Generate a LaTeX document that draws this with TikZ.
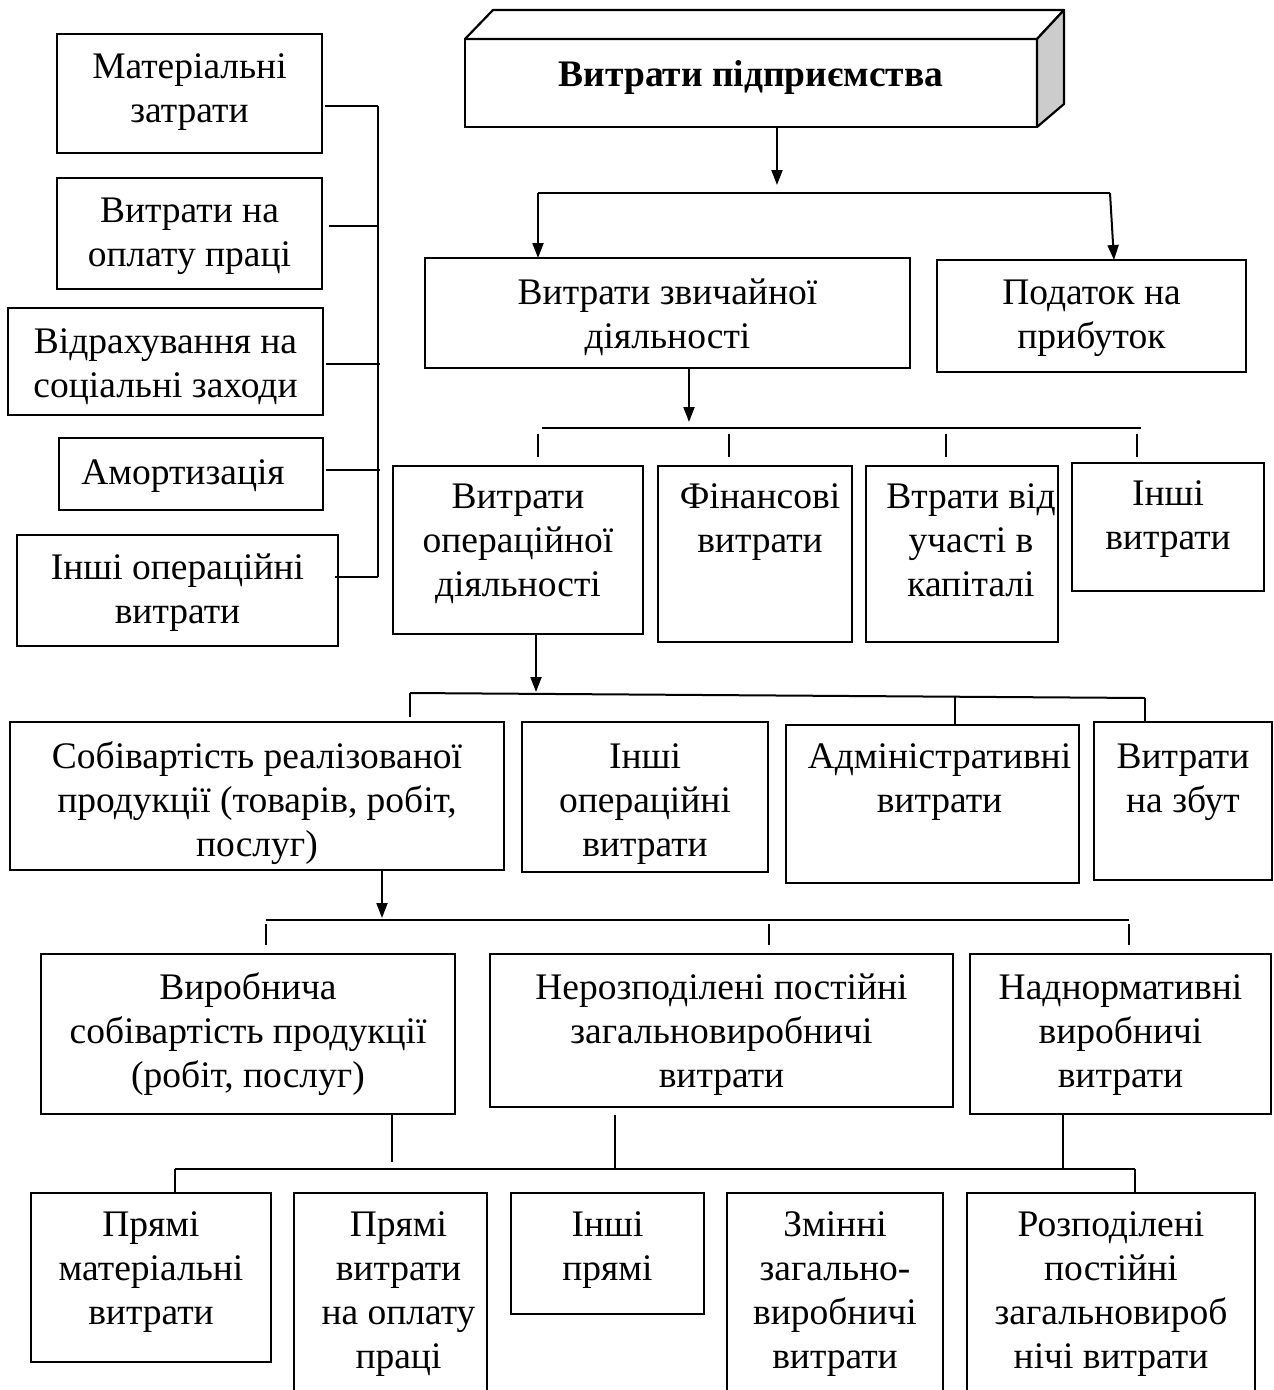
\documentclass[tikz,border=0pt]{standalone}
\usepackage{fontspec}
\setmainfont{Liberation Serif}
\usetikzlibrary{arrows.meta}
\tikzset{
  boxst/.style={draw, line width=2.2pt, rectangle, inner sep=0pt, outer sep=0pt},
  lbl/.style={align=center, inner sep=0pt, outer sep=0pt, font=\fontsize{37.5}{44}\selectfont},
  conn/.style={line width=2pt},
  arr/.style={line width=2pt, -{Triangle[length=15pt,width=11pt]}}
}
% name, x1, y1, x2, y2, xshift, top offset, text
\newcommand\bx[8]{%
  \node[boxst, minimum width={((#4)-(#2))*1pt}, minimum height={((#5)-(#3))*1pt}, anchor=north west] (#1) at (#2,#3) {};
  \node[lbl, anchor=north, xshift=#6pt] (#1-t) at ([yshift=-#7pt]#1.north) {\strut #8};
}
\begin{document}
\begin{tikzpicture}[x=1pt,y=-1pt]
\path[use as bounding box, clip] (0,0) rectangle (1274,1390);
\fill[white] (0,0) rectangle (1274,1390);

% title 3D box
\node[boxst, minimum width=572pt, minimum height=88pt, anchor=north west] (title) at (465,39) {};
\draw[line width=2.2pt, fill=white, line join=round] (title.north west) -- (493,10) -- (1064,10) -- (title.north east) -- cycle;
\draw[line width=2.2pt, fill=gray!40, line join=round] (title.north east) -- (1064,10) -- (1064,104) -- (title.south east) -- cycle;
\node[lbl, anchor=north, font=\fontsize{37.5}{44}\selectfont\bfseries] (title-t) at ([yshift=-17pt]title.north) {\strut Витрати підприємства};

% left column
\bx{mat}{57}{34}{322}{153}{0}{14}{Матеріальні\\затрати}
\bx{opl}{57}{178}{322}{289}{0}{14}{Витрати на\\оплату праці}
\bx{vid}{8}{308}{323}{415}{0}{15}{Відрахування на\\соціальні заходи}
\bx{amo}{59}{438}{323}{510}{-8}{16}{Амортизація}
\bx{inl}{17}{535}{338}{646}{0}{14}{Інші операційні\\витрати}

% level 2
\bx{zv}{425}{258}{910}{368}{0}{16}{Витрати звичайної\\діяльності}
\bx{pod}{937}{260}{1246}{372}{0}{14}{Податок на\\прибуток}

% level 3
\bx{op}{393}{466}{643}{634}{0}{12}{Витрати\\операційної\\діяльності}
\bx{fin}{658}{466}{852}{642}{5}{12}{Фінансові\\витрати}
\bx{vtr}{866}{466}{1058}{642}{9}{12}{Втрати від\\участі в\\капіталі}
\bx{ish}{1072}{463}{1264}{591}{0}{12}{Інші\\витрати}

% level 4
\bx{sob}{10}{722}{504}{870}{0}{16}{Собівартість реалізованої\\продукції (товарів, робіт,\\послуг)}
\bx{iop}{522}{722}{768}{872}{0}{16}{Інші\\операційні\\витрати}
\bx{adm}{786}{725}{1079}{883}{7}{13}{Адміністративні\\витрати}
\bx{zb}{1094}{722}{1272}{880}{0}{16}{Витрати\\на збут}

% level 5
\bx{vyr}{41}{954}{455}{1114}{0}{15}{Виробнича\\собівартість продукції\\(робіт, послуг)}
\bx{ner}{490}{954}{953}{1107}{0}{15}{Нерозподілені постійні\\загальновиробничі\\витрати}
\bx{nad}{970}{954}{1271}{1114}{0}{15}{Наднормативні\\виробничі\\витрати}

% level 6
\bx{pm}{31}{1193}{271}{1362}{0}{13}{Прямі\\матеріальні\\витрати}
\bx{pv}{294}{1193}{487}{1420}{8}{13}{Прямі\\витрати\\на оплату\\праці}
\bx{ip}{511}{1193}{704}{1314}{0}{13}{Інші\\прямі}
\bx{zm}{727}{1193}{943}{1420}{0}{13}{Змінні\\загально-\\виробничі\\витрати}
\bx{rp}{967}{1193}{1255}{1420}{0}{13}{Розподілені\\постійні\\загальновироб\\нічі витрати}

% ---- connectors ----
% left bus
\coordinate (lb1) at (378,106);
\coordinate (lb2) at (378,226);
\coordinate (lb3) at (380,364);
\coordinate (lb4) at (380,470);
\coordinate (lb5) at (378,577);
\draw[conn] (lb1) -- (lb5);
\draw[conn] ([xshift=3pt]mat.east |- lb1) -- (lb1);
\draw[conn] ([xshift=7pt]opl.east |- lb2) -- (lb2);
\draw[conn] ([xshift=3pt]vid.east |- lb3) -- (lb3);
\draw[conn] ([xshift=3pt]amo.east |- lb4) -- (lb4);
\draw[conn] ([xshift=-3pt]inl.east |- lb5) -- (lb5);

% title to level 2
\coordinate (t1) at (777,185);
\coordinate (h1L) at (538,193);
\coordinate (h1R) at (1110,193);
\draw[arr] (title.south -| t1) -- (t1);
\draw[conn] (h1L) -- (h1R);
\draw[arr] (h1L) -- (zv.north -| h1L);
\draw[arr] (h1R) -- ([xshift=4pt]pod.north -| h1R);

% level 2 to level 3
\coordinate (t2) at (689,422);
\coordinate (h2L) at (542,428);
\coordinate (h2R) at (1141,428);
\draw[arr] (zv.south -| t2) -- (t2);
\draw[conn] (h2L) -- (h2R);
\foreach \x in {538, 729, 946, 1137}{
  \draw[conn] (\x,434) -- (\x,457);
}

% level 3 to level 4
\coordinate (t3) at (536,692);
\coordinate (h3L) at (410,693);
\coordinate (h3M) at (955,697);
\coordinate (h3R) at (1145,698);
\draw[arr] (op.south -| t3) -- (t3);
\draw[conn] (h3L) -- (h3R);
\draw[conn] (h3L) -- ([yshift=5pt]sob.north -| h3L);
\draw[conn] (h3M) -- (adm.north -| h3M);
\draw[conn] (h3R) -- (zb.north -| h3R);

% level 4 to level 5
\coordinate (t4) at (382,918);
\coordinate (h4L) at (266,920);
\coordinate (h4R) at (1129,920);
\draw[arr] (sob.south -| t4) -- (t4);
\draw[conn] (h4L) -- (h4R);
\foreach \x in {266, 769, 1129}{
  \draw[conn] (\x,924) -- (\x,945);
}

% level 5 to level 6
\coordinate (h5L) at (175,1169);
\coordinate (h5R) at (1135,1169);
\coordinate (d1) at (392,1162);
\coordinate (d2) at (615,1169);
\coordinate (d3) at (1063,1169);
\draw[conn] (vyr.south -| d1) -- (d1);
\draw[conn] ([yshift=-8pt]ner.south -| d2) -- (d2);
\draw[conn] (nad.south -| d3) -- (d3);
\draw[conn] (h5L) -- (h5R);
\draw[conn] (h5L) -- (pm.north -| h5L);
\draw[conn] (h5R) -- (rp.north -| h5R);
\end{tikzpicture}
\end{document}
